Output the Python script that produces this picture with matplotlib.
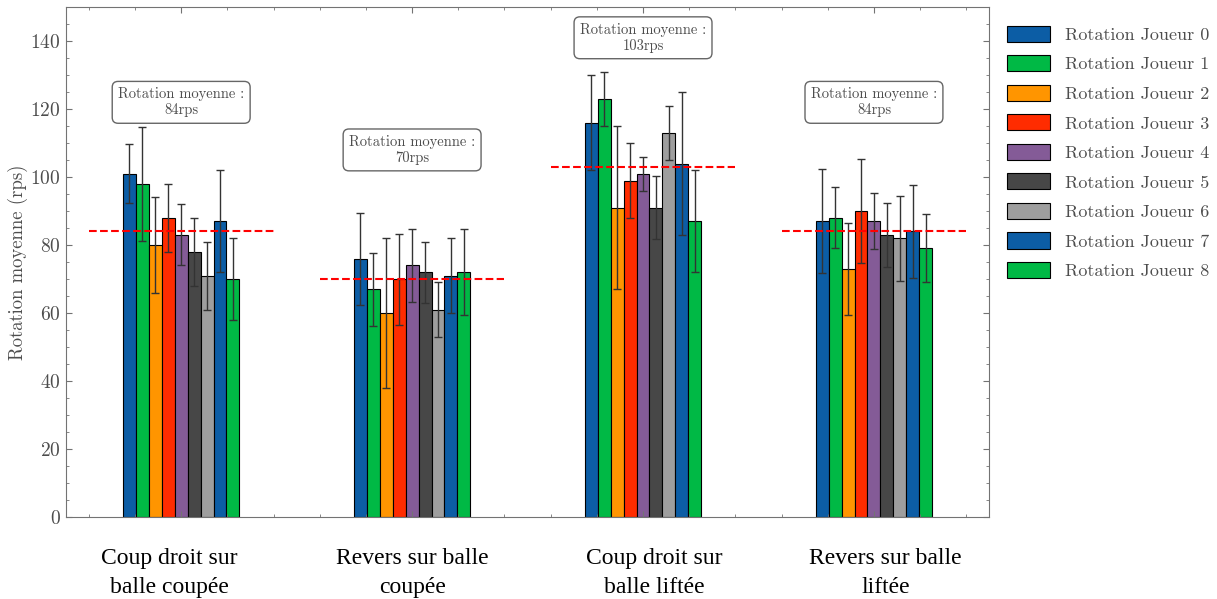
import numpy as np
import matplotlib.pyplot as plt
from matplotlib.ticker import MultipleLocator

plt.rcParams['font.family'] = ['cmr10', 'DejaVu Serif']
plt.rcParams['mathtext.fontset'] = 'cm'
plt.rcParams['axes.formatter.use_mathtext'] = True

# Données
coups = ['Coup droit sur\nballe coupée', 'Revers sur balle\ncoupée',
         'Coup droit sur\nballe liftée', 'Revers sur balle\nliftée']
joueurs = ['Rotation Joueur %d' % i for i in range(9)]

# rotation moyenne (rps) de chaque joueur, pour chaque coup
rotation_cd_coupee = [101, 98, 80, 88, 83, 78, 71, 87, 70]
rotation_rv_coupee = [76, 67, 60, 70, 74, 72, 61, 71, 72]
rotation_cd_liftee = [116, 123, 91, 99, 101, 91, 113, 104, 87]
rotation_rv_liftee = [87, 88, 73, 90, 87, 83, 82, 84, 79]

# écart-type de chaque joueur, pour chaque coup
ecart_cd_coupee = [8.7, 16.8, 14, 10, 9, 10, 10, 15, 12]
ecart_rv_coupee = [13.5, 10.8, 22, 13.4, 10.8, 9, 8, 11, 12.7]
ecart_cd_liftee = [14, 8, 24, 11, 5, 9.2, 8, 21, 15]
ecart_rv_liftee = [15.3, 9, 13.5, 15.4, 8.2, 9.5, 12.5, 13.6, 10]

moyennes = [84, 70, 103, 84]

couleurs = ['#0C5DA5', '#00B945', '#FF9500', '#FF2C00', '#845B97',
            '#474747', '#9e9e9e', '#0C5DA5', '#00B945']

rotation = np.array([rotation_cd_coupee, rotation_rv_coupee,
                     rotation_cd_liftee, rotation_rv_liftee])
ecart = np.array([ecart_cd_coupee, ecart_rv_coupee,
                  ecart_cd_liftee, ecart_rv_liftee])

fig, ax = plt.subplots(figsize=(12.17, 5.99), dpi=100)
fig.subplots_adjust(left=0.054, right=0.813, bottom=0.137, top=0.988)

x = np.arange(len(coups))
largeur = 0.056
for i in range(len(joueurs)):
    ax.bar(x + (i - 4) * largeur, rotation[:, i], largeur, yerr=ecart[:, i],
           color=couleurs[i], edgecolor='black', linewidth=0.8, capsize=3,
           error_kw=dict(ecolor='#333333', elinewidth=1, capthick=1),
           label=joueurs[i])

for xi, m in zip(x, moyennes):
    ax.hlines(m, xi - 0.4, xi + 0.4, colors='red', linestyles='--',
              linewidth=1.5, zorder=3)
    ax.text(xi, m + 38, 'Rotation moyenne :\n%drps' % m, ha='center',
            va='center', fontsize=10.5, color='0.3',
            bbox=dict(boxstyle='round,pad=0.4', fc='white', ec='0.4', lw=1))

ax.set_xlim(-0.5, 3.5)
ax.set_ylim(0, 150)
ax.set_xticks(x)
ax.xaxis.set_minor_locator(MultipleLocator(0.2))
ax.yaxis.set_major_locator(MultipleLocator(20))
ax.yaxis.set_minor_locator(MultipleLocator(5))
ax.tick_params(which='both', direction='in', top=True, right=True,
               color='0.45', labelcolor='0.3', labelsize=14, labelbottom=False)
ax.tick_params(which='major', length=4.5, width=0.8)
ax.tick_params(which='minor', length=2.2, width=0.6)
for s in ax.spines.values():
    s.set_color('0.45')
    s.set_linewidth(0.8)

ax.set_ylabel('Rotation moyenne (rps)', fontsize=13.5, color='0.3', labelpad=2)

# étiquettes des coups, sous l'axe
decalage = [-0.05, 0, 0.05, 0.05]
for xi, d, nom in zip(x, decalage, coups):
    ax.text(xi + d, -0.06, nom, transform=ax.get_xaxis_transform(),
            ha='center', va='top', fontsize=17, family='Liberation Serif',
            linespacing=1.5)

ax.legend(loc='upper left', bbox_to_anchor=(1.011, 0.978), frameon=False,
          fontsize=13, labelcolor='0.3', handlelength=2.4, handleheight=1.0,
          labelspacing=0.68, borderaxespad=0)

fig.savefig('out.png', dpi=100)
